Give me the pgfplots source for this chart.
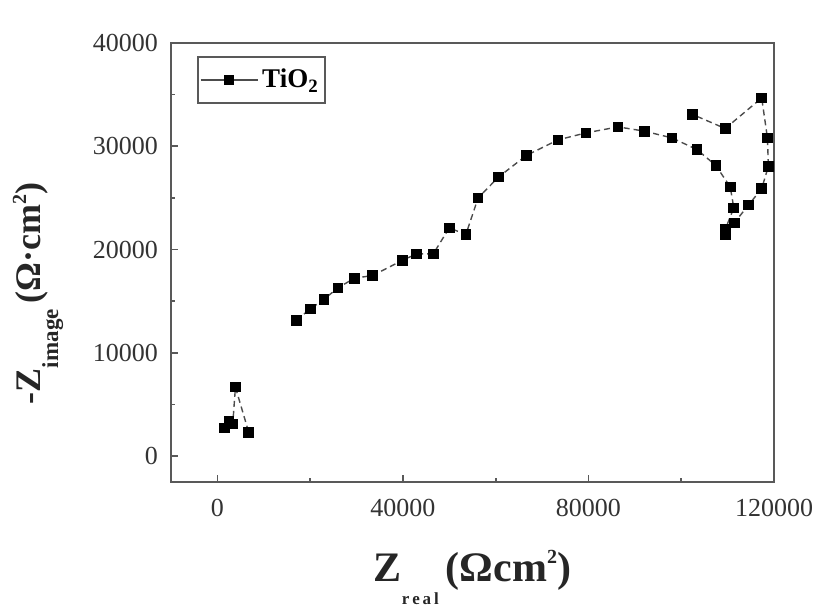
\documentclass[border=0pt]{standalone}
\usepackage{fontspec}
\setmainfont{Liberation Serif}
\usepackage{pgfplots}
\pgfplotsset{compat=1.18}
\begin{document}
\begin{tikzpicture}
\begin{axis}[name=ax, scale only axis, width=301.5pt, height=219.5pt,
  xmin=-10000, xmax=120000, ymin=-2500, ymax=40000,
  xtick={0,40000,80000,120000}, ytick={0,10000,20000,30000,40000},
  minor tick num=1, tick align=inside, xtick pos=bottom, ytick pos=left,
  major tick length=3.5pt, minor tick length=2pt,
  scaled ticks=false,
  /pgf/number format/.cd, fixed, precision=0, set thousands separator={}, assume math mode=true, /pgfplots/.cd,
  tick label style={font=\fontsize{13}{15}\selectfont, black!80},
  xticklabel style={yshift=-5pt},
  yticklabel style={xshift=-3pt},
  axis line style={black!65, line width=1.1pt},
  every tick/.style={black!65, line width=0.8pt},
  clip=false,
  xlabel={\textbf{Z}\raisebox{-11.5pt}{\fontsize{8.5}{9}\selectfont r\,e\,a\,l}\,\textbf{(Ωcm\raisebox{9pt}{\fontsize{10}{11}\selectfont 2})}},
  xlabel style={at={(axis description cs:0.5,0)}, anchor=base, yshift=-49.5pt, font=\fontsize{21}{24}\selectfont\bfseries, black!85},
  ylabel={\textbf{-Z}\raisebox{-9pt}{\fontsize{11.5}{12}\selectfont\bfseries image}\,\textbf{(Ω·cm\raisebox{7pt}{\fontsize{10}{11}\selectfont 2})}},
  ylabel style={at={(axis description cs:-0.2206,0.43)}, anchor=center, rotate=0, font=\fontsize{18}{20}\selectfont\bfseries, black!85},
  legend style={at={(axis description cs:0.043,0.970)}, anchor=north west, draw=black!65, line width=1pt,
    font=\fontsize{13.5}{15}\selectfont\bfseries, inner xsep=1pt, inner ysep=4pt,
    nodes={inner sep=2pt}},
  legend image code/.code={\draw[mark repeat=2,mark phase=2,#1,solid,line width=0.7pt] plot coordinates {(0cm,0cm) (0.5cm,0cm) (1cm,0cm)};},
]
\addplot[densely dashed, black!70, line width=0.7pt, mark=square*, mark size=2.3pt,
  mark options={solid, fill=black, draw=black}, unbounded coords=jump] table[row sep=\\] {
x y\\
1590 2740\\
2520 3390\\
3310 3100\\
3890 6680\\
6750 2320\\
nan nan\\
17010 13140\\
20020 14260\\
22950 15170\\
25960 16290\\
29550 17230\\
33480 17490\\
39930 18970\\
42950 19580\\
46540 19580\\
49980 22100\\
53570 21460\\
56210 25000\\
60580 27010\\
66600 29110\\
73420 30620\\
79500 31300\\
86380 31880\\
92130 31460\\
98000 30810\\
103380 29690\\
107460 28140\\
110560 26070\\
111330 24040\\
109480 21950\\
109480 21460\\
111420 22580\\
114490 24300\\
117350 25910\\
118790 28070\\
118580 30810\\
117350 34680\\
109480 31720\\
102450 33080\\
};
\addlegendentry{TiO\textsubscript{2}}
\end{axis}
\pgfresetboundingbox
\path[use as bounding box] ([xshift=-85.5pt,yshift=-63.5pt]ax.south west) rectangle ([xshift=32pt,yshift=21.5pt]ax.north east);
\end{tikzpicture}
\end{document}
